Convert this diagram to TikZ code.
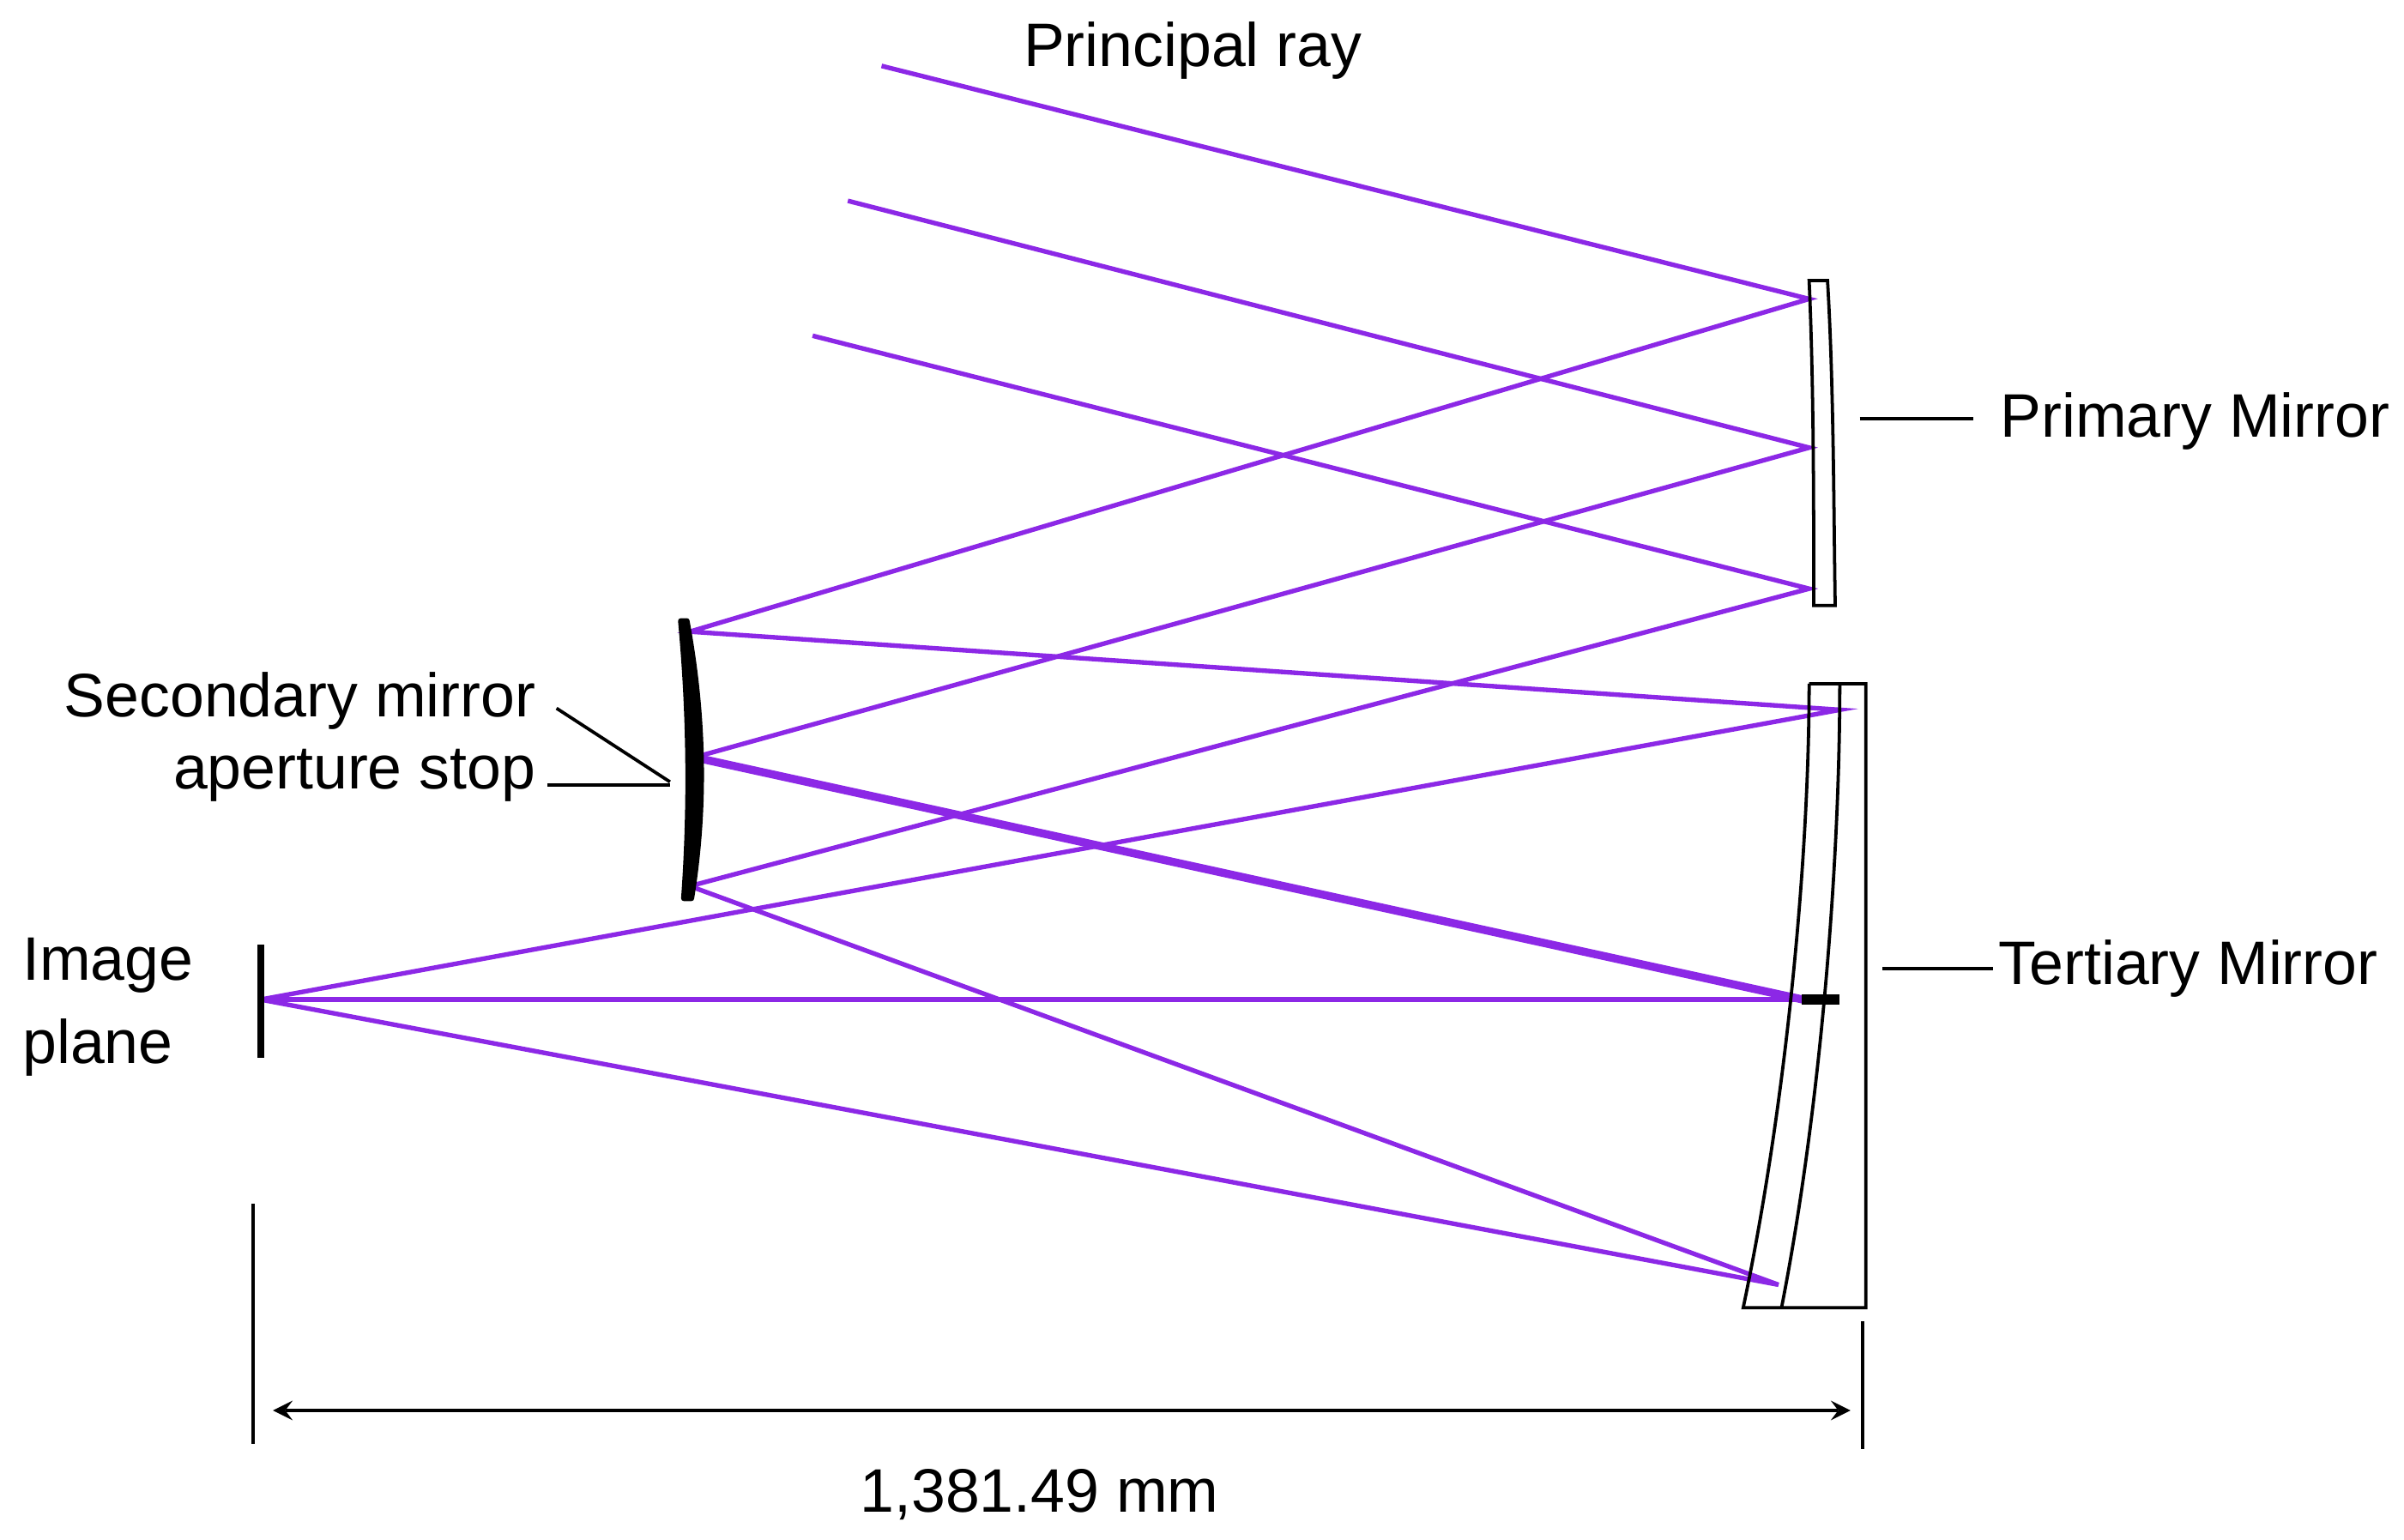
\documentclass[tikz,border=0pt]{standalone}
\usepackage{fontspec}
\setmainfont{Liberation Sans}
\begin{document}
\begin{tikzpicture}[x=0.01cm,y=-0.01cm,
  ray/.style={draw={rgb,255:red,140;green,40;blue,230},line width=0.85pt},
  lbl/.style={font=\fontsize{11.4pt}{13.5pt}\selectfont,inner sep=0pt},
  blk/.style={draw=black,line width=0.6pt}]
\useasboundingbox (0,0) rectangle (1568,1004);
% points
\coordinate (s1) at (575,43); \coordinate (s2) at (553,131); \coordinate (s3) at (530,219);
\coordinate (p1) at (1180,195); \coordinate (p2) at (1180,292); \coordinate (p3) at (1180,384);
\coordinate (q1) at (450,412); \coordinate (q2) at (453,494); \coordinate (q3) at (450,578);
\coordinate (t1) at (1200,463); \coordinate (t2) at (1176,652); \coordinate (t3) at (1160,838);
\coordinate (im) at (170,652);
% rays
\draw[ray] (s1)--(p1)--(q1)--(t1)--(im);
\draw[ray] (s2)--(p2)--(q2);
\draw[ray,line width=1.5pt] (q2)--(t2);
\draw[ray] (t2)--(im);
\draw[ray] (s3)--(p3)--(q3)--(t3)--(im);
% primary mirror
\draw[blk] (1180,183) -- (1192,183) .. controls (1196,250) and (1196,330) .. (1197,395) -- (1183,395) .. controls (1183,330) and (1183,250) .. cycle;
% secondary mirror (lens-shaped)
\fill[black,draw=black,line width=1pt,line join=round] (444,405) .. controls (450,470) and (450,530) .. (446,586) -- (451,586) .. controls (460,530) and (460,470) .. (448,405) -- cycle;
% tertiary mirror
\draw[blk] (1180,446) -- (1217,446) -- (1217,853) -- (1137,853) .. controls (1165,720) and (1180,560) .. (1180,446);
\draw[blk] (1200,446) .. controls (1200,560) and (1188,720) .. (1162,853);
\draw[line width=1.8pt] (1175,652) -- (1200,652);
% image plane
\draw[line width=1.2pt] (170,616) -- (170,690);
% dimension
\draw[blk] (165,785) -- (165,942);
\draw[blk] (1215,862) -- (1215,945);
\coordinate (d1) at (178,920); \coordinate (d2) at (1207,920);
\draw[blk,<->,>=stealth] (d1) -- (d2);
% labels
\node[lbl] (pr) at (778,33) {Principal ray};
\node[lbl,anchor=west] (pm) at (1304,275) {Primary Mirror};
\draw[blk] (1213,273) -- (1287,273);
\node[lbl,anchor=west] (tm) at (1303,632) {Tertiary Mirror};
\draw[blk] (1228,632) -- (1300,632);
\node[lbl,anchor=east] (sm) at (350,457) {Secondary mirror};
\node[lbl,anchor=east] (as) at (350,506) {aperture stop};
\draw[blk] (363,462) -- (437,510);
\draw[blk] (357,512) -- (437,512);
\node[lbl,anchor=west,align=left] (ip) at (14,657) {Image\\[2pt]plane};
\node[lbl] (dim) at (678,975) {1,381.49 mm};
\end{tikzpicture}
\end{document}
